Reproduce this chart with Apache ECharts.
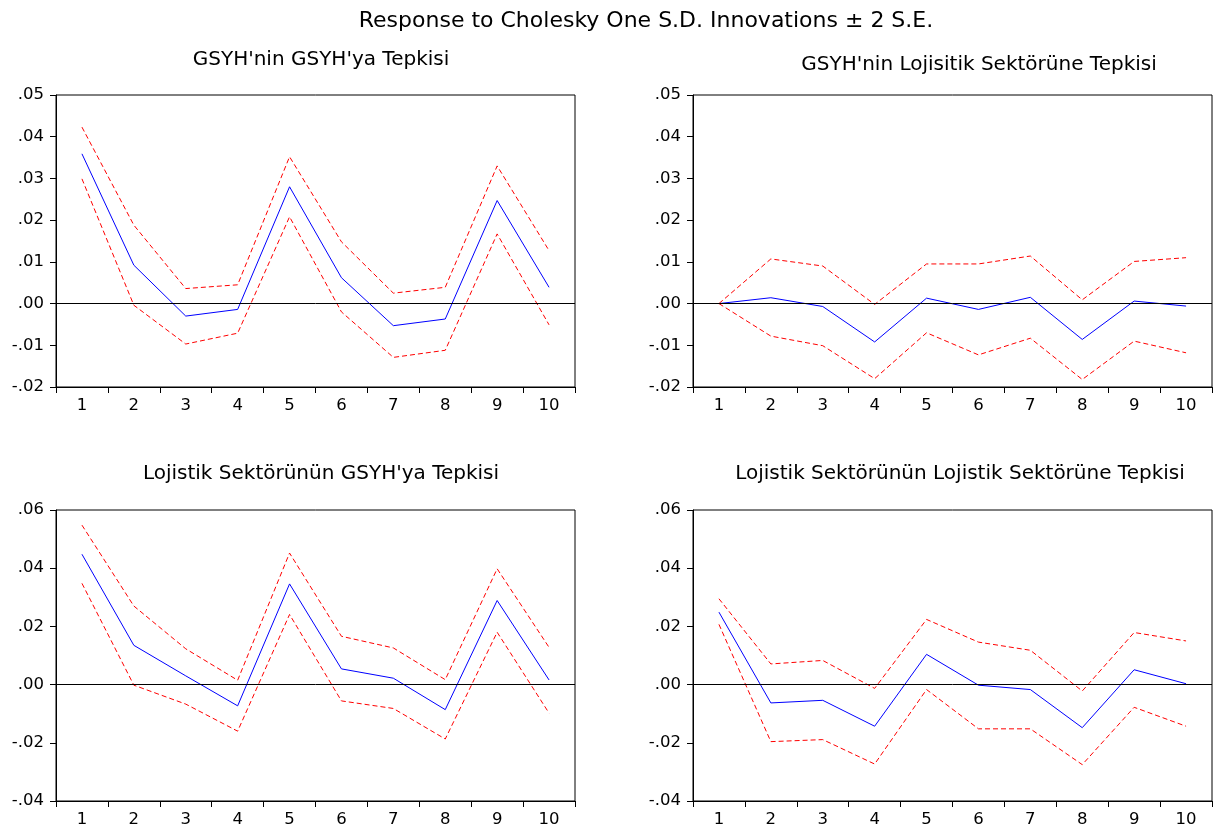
<!DOCTYPE html>
<html>
<head>
<meta charset="utf-8">
<script src="https://cdn.jsdelivr.net/npm/echarts@6/dist/echarts.min.js"></script>
<style>
html,body{margin:0;padding:0;background:#fff;}
#chart{width:1216px;height:828px;}
</style>
</head>
<body>
<div id="chart"></div>
<script>
const periods = ['1','2','3','4','5','6','7','8','9','10'];

const mainTitle = 'Response to Cholesky One S.D. Innovations \u00b1 2 S.E.';
const panelTitles = [
  "GSYH'nin GSYH'ya Tepkisi",
  "GSYH'nin Lojisitik Sektörüne Tepkisi",
  "Lojistik Sektörünün GSYH'ya Tepkisi",
  "Lojistik Sektörünün Lojistik Sektörüne Tepkisi"
];

// Panel 1: GSYH -> GSYH
const p1Resp  = [0.0359, 0.0092, -0.0030, -0.0014, 0.0280, 0.0062, -0.0053, -0.0037, 0.0247, 0.0039];
const p1Upper = [0.0423, 0.0188, 0.0036, 0.0045, 0.0352, 0.0148, 0.0025, 0.0039, 0.0330, 0.0127];
const p1Lower = [0.0299, -0.0004, -0.0097, -0.0071, 0.0208, -0.0020, -0.0129, -0.0112, 0.0167, -0.0051];

// Panel 2: GSYH -> Lojistik
const p2Resp  = [0.0000, 0.0014, -0.0007, -0.0092, 0.0013, -0.0014, 0.0015, -0.0086, 0.0006, -0.0006];
const p2Upper = [0.0000, 0.0107, 0.0090, -0.0002, 0.0095, 0.0095, 0.0114, 0.0009, 0.0101, 0.0110];
const p2Lower = [0.0000, -0.0078, -0.0101, -0.0180, -0.0070, -0.0123, -0.0083, -0.0182, -0.0090, -0.0118];

// Panel 3: Lojistik -> GSYH
const p3Resp  = [0.0448, 0.0135, 0.0030, -0.0073, 0.0346, 0.0054, 0.0022, -0.0086, 0.0289, 0.0016];
const p3Upper = [0.0548, 0.0270, 0.0123, 0.0015, 0.0452, 0.0166, 0.0126, 0.0017, 0.0398, 0.0128];
const p3Lower = [0.0348, -0.0002, -0.0067, -0.0160, 0.0241, -0.0056, -0.0082, -0.0187, 0.0180, -0.0098];

// Panel 4: Lojistik -> Lojistik
const p4Resp  = [0.0249, -0.0063, -0.0054, -0.0143, 0.0104, -0.0002, -0.0017, -0.0148, 0.0051, 0.0003];
const p4Upper = [0.0295, 0.0071, 0.0083, -0.0013, 0.0224, 0.0146, 0.0118, -0.0022, 0.0179, 0.0150];
const p4Lower = [0.0207, -0.0196, -0.0189, -0.0273, -0.0017, -0.0152, -0.0152, -0.0275, -0.0078, -0.0143];

const topAxis = {min: -0.02, max: 0.05, interval: 0.01};
const bottomAxis = {min: -0.04, max: 0.06, interval: 0.02};

const panels = [
  {resp: p1Resp, up: p1Upper, lo: p1Lower, axis: topAxis},
  {resp: p2Resp, up: p2Upper, lo: p2Lower, axis: topAxis},
  {resp: p3Resp, up: p3Upper, lo: p3Lower, axis: bottomAxis},
  {resp: p4Resp, up: p4Upper, lo: p4Lower, axis: bottomAxis}
];

const FONT = '"DejaVu Sans", "Liberation Sans", Arial, sans-serif';
const gridPos = [
  {left: 56, top: 95, width: 519, height: 292},
  {left: 693, top: 95, width: 519, height: 292},
  {left: 56, top: 510, width: 519, height: 292},
  {left: 693, top: 510, width: 519, height: 292}
];
const titlePos = [
  {left: 316, top: 45},
  {left: 974, top: 50},
  {left: 316, top: 459},
  {left: 955, top: 459}
];

function fmt(v){
  let s = v.toFixed(2);
  return s.replace('0.', '.');
}

const grids = [], xAxes = [], yAxes = [], series = [];
const titles = [{
  text: mainTitle, left: 641, top: 5, textAlign: 'center',
  textStyle: {fontFamily: FONT, fontSize: 22, fontWeight: 'normal', color: '#000'}
}];

panels.forEach((p, i) => {
  grids.push(Object.assign({show: true, borderColor: '#000', borderWidth: 1, backgroundColor: 'transparent'}, gridPos[i]));
  titles.push({
    text: panelTitles[i], left: titlePos[i].left, top: titlePos[i].top, textAlign: 'center',
    textStyle: {fontFamily: FONT, fontSize: 20, fontWeight: 'normal', color: '#000'}
  });
  xAxes.push({
    type: 'category', gridIndex: i, data: periods, boundaryGap: true,
    axisLine: {onZero: false, lineStyle: {color: '#000', width: 1}},
    axisTick: {show: true, inside: false, length: 6, lineStyle: {color: '#000'}},
    axisLabel: {color: '#000', fontFamily: FONT, fontSize: 16.5, margin: 10},
    splitLine: {show: false}
  });
  yAxes.push({
    type: 'value', gridIndex: i, min: p.axis.min, max: p.axis.max, interval: p.axis.interval,
    axisLine: {show: true, onZero: false, lineStyle: {color: '#000', width: 1}},
    axisTick: {show: true, inside: false, length: 6, lineStyle: {color: '#000'}},
    axisLabel: {color: '#000', fontFamily: FONT, fontSize: 16.5, margin: 12, formatter: fmt},
    splitLine: {show: false}
  });
  series.push({
    type: 'line', xAxisIndex: i, yAxisIndex: i, data: p.up, symbol: 'none', silent: true,
    lineStyle: {color: '#ff0000', width: 1, type: [5, 3]}
  });
  series.push({
    type: 'line', xAxisIndex: i, yAxisIndex: i, data: p.lo, symbol: 'none', silent: true,
    lineStyle: {color: '#ff0000', width: 1, type: [5, 3]}
  });
  series.push({
    type: 'line', xAxisIndex: i, yAxisIndex: i, data: p.resp, symbol: 'none', silent: true,
    lineStyle: {color: '#0000ff', width: 1},
    markLine: {
      silent: true, symbol: 'none', label: {show: false},
      lineStyle: {color: '#000', width: 1, type: 'solid'},
      data: [{yAxis: 0}]
    }
  });
});

const chart = echarts.init(document.getElementById('chart'), null, {renderer: 'canvas'});
chart.setOption({
  backgroundColor: '#fff',
  animation: false,
  title: titles,
  grid: grids,
  xAxis: xAxes,
  yAxis: yAxes,
  series: series
});
</script>
</body>
</html>
